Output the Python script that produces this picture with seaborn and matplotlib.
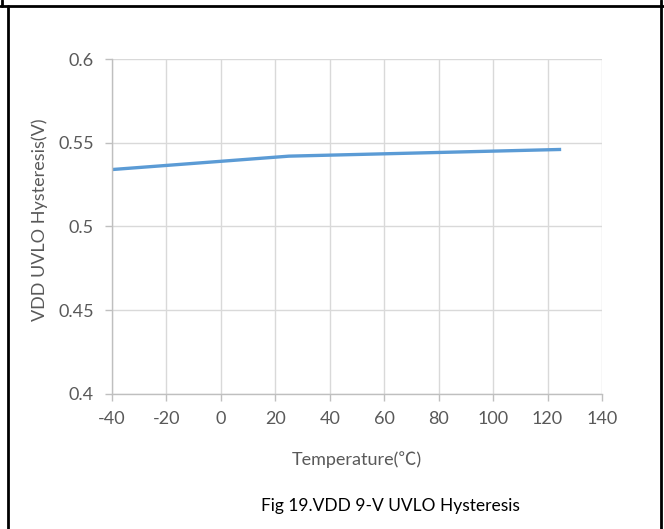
import matplotlib
matplotlib.use("Agg")
import matplotlib.pyplot as plt
from matplotlib.lines import Line2D
import seaborn as sns
import pandas as pd

# Measured UVLO hysteresis versus junction temperature
temperature_c = [-40, 25, 125]
hysteresis_v = [0.534, 0.542, 0.546]

x_ticks = [-40, -20, 0, 20, 40, 60, 80, 100, 120, 140]
y_ticks = [0.4, 0.45, 0.5, 0.55, 0.6]
y_tick_labels = ["0.4", "0.45", "0.5", "0.55", "0.6"]

x_label = "Temperature(\u2103)"
y_label = "VDD UVLO Hysteresis(V)"
caption = "Fig 19.VDD 9-V UVLO Hysteresis"

df = pd.DataFrame({"temp": temperature_c, "hyst": hysteresis_v})

sns.set_theme(style="white")
plt.rcParams["font.family"] = ["Lato", "Noto Sans CJK SC", "DejaVu Sans"]
plt.rcParams["axes.unicode_minus"] = False

W, H = 664, 529
fig = plt.figure(figsize=(W / 100, H / 100), dpi=100)
ax = fig.add_axes([112 / W, 1 - 394 / H, (602 - 112) / W, (394 - 59) / H])

sns.lineplot(data=df, x="temp", y="hyst", ax=ax, color="#5B9BD5",
             linewidth=2.4, solid_capstyle="butt")

ax.set_xlim(-40, 140)
ax.set_ylim(0.4, 0.6)
ax.set_xticks(x_ticks)
ax.set_yticks(y_ticks)
ax.set_yticklabels(y_tick_labels)

grid_c = "#D9D9D9"
ax.grid(True, color=grid_c, linewidth=1.0)
ax.set_axisbelow(True)
for side in ("top", "right"):
    ax.spines[side].set_visible(False)
for side in ("left", "bottom"):
    ax.spines[side].set_color("#BFBFBF")
    ax.spines[side].set_linewidth(1.0)

ax.tick_params(axis="both", which="major", direction="out", length=5,
               width=1.0, color="#BFBFBF", labelcolor="#595959",
               labelsize=13, left=True, bottom=True)
ax.tick_params(axis="x", pad=7)
ax.tick_params(axis="y", pad=8)

ax.set_xlabel("")
ax.set_ylabel("")
fig.text(357 / W, 1 - 460 / H, x_label, ha="center", va="center",
         fontsize=13, color="#595959")
fig.text(40 / W, 1 - 220 / H, y_label, rotation=90, ha="center", va="center",
         fontsize=13, color="#595959")

fig.text(390 / W, 1 - 506 / H, caption, ha="center", va="center",
         fontsize=12.5, color="black")

# Surrounding table-cell border
border = dict(color="black", linewidth=2.0, transform=fig.transFigure)
fig.add_artist(Line2D([0, 1], [1 - 6 / H, 1 - 6 / H], **border))
fig.add_artist(Line2D([8 / W, 8 / W], [0, 1 - 6 / H], **border))
fig.add_artist(Line2D([661 / W, 661 / W], [0, 1], **border))
fig.add_artist(Line2D([1.5 / W, 1.5 / W], [1 - 6 / H, 1], **border))

fig.savefig("out.png", dpi=100)
